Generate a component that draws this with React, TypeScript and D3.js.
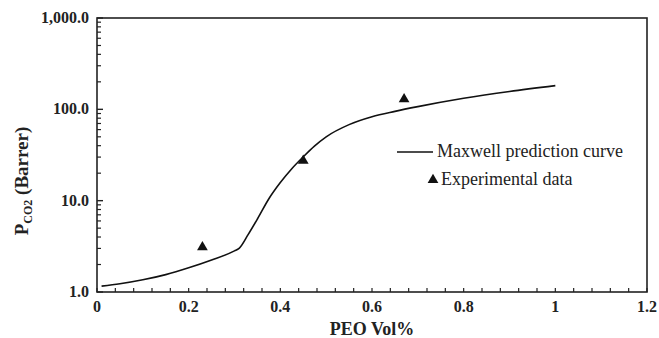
import React from 'react';
import { scaleLinear, scaleLog, line, curveMonotoneX, symbol, symbolTriangle, range } from 'd3';

// Maxwell prediction curve
const curveX = [0.01, 0.05, 0.1, 0.15, 0.2, 0.25, 0.3, 0.31, 0.33, 0.35, 0.375, 0.4, 0.425, 0.45, 0.475, 0.5, 0.55, 0.6, 0.65, 0.7, 0.8, 0.9, 1.0];
const curveY = [1.16, 1.23, 1.36, 1.55, 1.84, 2.24, 2.82, 3.0, 4.27, 6.3, 10.5, 15.8, 22.4, 30.2, 39.8, 50, 68, 83, 95, 107, 132, 157, 182];

// experimental points
const expX = [0.23, 0.45, 0.67];
const expY = [3.1, 27.4, 129];

const xTicks = [0, 0.2, 0.4, 0.6, 0.8, 1, 1.2];
const xTickLabels = ['0', '0.2', '0.4', '0.6', '0.8', '1', '1.2'];
const yTicks = [1, 10, 100, 1000];
const yTickLabels = ['1.0', '10.0', '100.0', '1,000.0'];

const width = 659;
const height = 338;
const serif = 'Liberation Serif';

const App = () => {
  const x = scaleLinear().domain([0, 1.2]).range([97, 647]);
  const y = scaleLog().domain([1, 1000]).range([292, 18]);

  const pts = curveX.map((d, i) => [d, curveY[i]] as [number, number]);
  const path = line<[number, number]>()
    .x(d => x(d[0]))
    .y(d => y(d[1]))
    .curve(curveMonotoneX)(pts);

  const tri = symbol().type(symbolTriangle).size(50)();

  const minorX = range(0, 31).map(i => i * 0.04);
  const minorY: number[] = [];
  [1, 10, 100].forEach(dec => {
    for (let k = 2; k <= 9; k++) minorY.push(dec * k);
  });

  const bold = { fontFamily: serif, fontWeight: 'bold' as const };
  const plain = { fontFamily: serif };

  return (
    <svg width={width} height={height}
      style={{ position: 'absolute', left: 0, top: 0, background: '#fff', fontFamily: serif }}>
      {/* frame */}
      <rect x={x(0)} y={y(1000)} width={x(1.2) - x(0)} height={y(1) - y(1000)}
        fill="none" stroke="#222" strokeWidth={1.6} />

      {/* x ticks */}
      {minorX.map((t, i) => (
        <line key={'mx' + i} x1={x(t)} x2={x(t)} y1={y(1)} y2={y(1) - 4} stroke="#222" strokeWidth={1.2} />
      ))}
      {xTicks.map((t, i) => (
        <text key={'xl' + i} x={x(t)} y={312} textAnchor="middle" style={bold}
          fontSize={16} fill="#222">{xTickLabels[i]}</text>
      ))}

      {/* y ticks */}
      {minorY.map((t, i) => (
        <line key={'my' + i} x1={x(0)} x2={x(0) + 4} y1={y(t)} y2={y(t)} stroke="#222" strokeWidth={1.2} />
      ))}
      {yTicks.map((t, i) => (
        <g key={'yl' + i}>
          <line x1={x(0)} x2={x(0) + 6} y1={y(t)} y2={y(t)} stroke="#222" strokeWidth={1.4} />
          <text x={89} y={y(t) + 5} textAnchor="end" style={bold}
            fontSize={16} fill="#222">{yTickLabels[i]}</text>
        </g>
      ))}

      {/* axis titles */}
      <text x={372} y={335} textAnchor="middle" style={bold} fontSize={18} fill="#222">PEO Vol%</text>
      <text transform="translate(28,181) rotate(-90)" textAnchor="middle" style={bold}
        fontSize={19} fill="#222">
        P<tspan fontSize={12} dy={4}>CO2</tspan><tspan dy={-4}> (Barrer)</tspan>
      </text>

      {/* curve */}
      <path d={path || ''} fill="none" stroke="#111" strokeWidth={1.6} />

      {/* experimental data */}
      {expX.map((d, i) => (
        <path key={'e' + i} d={tri || ''} transform={`translate(${x(d)},${y(expY[i])})`} fill="#111" />
      ))}

      {/* legend */}
      <line x1={397} x2={433} y1={152} y2={152} stroke="#111" strokeWidth={1.6} />
      <text x={437} y={157} style={plain} fontSize={18} fill="#222">Maxwell prediction curve</text>
      <path d={tri || ''} transform="translate(433,180)" fill="#111" />
      <text x={441} y={185} style={plain} fontSize={18} fill="#222">Experimental data</text>
    </svg>
  );
};

export default App;
